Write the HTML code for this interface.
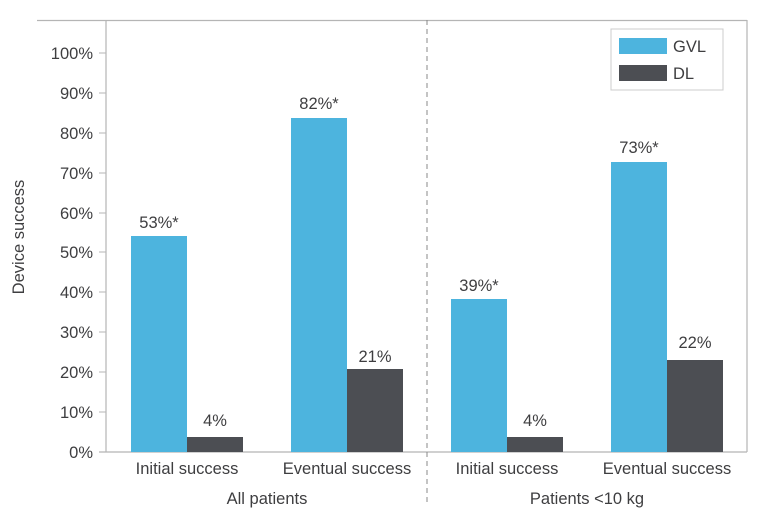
<!DOCTYPE html>
<html><head><meta charset="utf-8"><style>
body{margin:0;background:#fff;}
svg text{font-family:"Liberation Sans",sans-serif;fill:#3e3e40;font-size:16.5px;}
</style></head><body>
<svg width="768" height="515" viewBox="0 0 768 515">
<g stroke="#b5b5b5" stroke-width="1.2" fill="none">
<line x1="37" y1="20.5" x2="747" y2="20.5"/>
<line x1="106" y1="20" x2="106" y2="452"/>
<line x1="747" y1="20" x2="747" y2="452"/>
<line x1="99" y1="452" x2="747" y2="452"/>
</g>
<line x1="427" y1="20" x2="427" y2="505" stroke="#888" stroke-width="1" stroke-dasharray="5,4"/>
<g stroke="#b5b5b5">
<line x1="99" y1="53" x2="106" y2="53"/><line x1="99" y1="93" x2="106" y2="93"/>
<line x1="99" y1="133" x2="106" y2="133"/><line x1="99" y1="173" x2="106" y2="173"/>
<line x1="99" y1="213" x2="106" y2="213"/><line x1="99" y1="252" x2="106" y2="252"/>
<line x1="99" y1="292" x2="106" y2="292"/><line x1="99" y1="332" x2="106" y2="332"/>
<line x1="99" y1="372" x2="106" y2="372"/><line x1="99" y1="412" x2="106" y2="412"/>
</g>
<g text-anchor="end">
<text x="93" y="59">100%</text><text x="93" y="99">90%</text><text x="93" y="139">80%</text>
<text x="93" y="179">70%</text><text x="93" y="219">60%</text><text x="93" y="258">50%</text>
<text x="93" y="298">40%</text><text x="93" y="338">30%</text><text x="93" y="378">20%</text>
<text x="93" y="418">10%</text><text x="93" y="458">0%</text>
</g>
<text transform="translate(24,237) rotate(-90)" text-anchor="middle">Device success</text>
<g fill="#4db4de">
<rect x="131" y="236" width="56" height="216"/>
<rect x="291" y="118" width="56" height="334"/>
<rect x="451" y="299" width="56" height="153"/>
<rect x="611" y="162" width="56" height="290"/>
</g>
<g fill="#4c4e53">
<rect x="187" y="437" width="56" height="15"/>
<rect x="347" y="369" width="56" height="83"/>
<rect x="507" y="437" width="56" height="15"/>
<rect x="667" y="360" width="56" height="92"/>
</g>
<g text-anchor="middle">
<text x="159" y="228">53%*</text><text x="215" y="426">4%</text>
<text x="319" y="109">82%*</text><text x="375" y="362">21%</text>
<text x="479" y="291">39%*</text><text x="535" y="426">4%</text>
<text x="639" y="153">73%*</text><text x="695" y="348">22%</text>
<text x="187" y="474">Initial success</text><text x="347" y="474">Eventual success</text>
<text x="507" y="474">Initial success</text><text x="667" y="474">Eventual success</text>
<text x="267" y="504">All patients</text><text x="587" y="504">Patients &lt;10 kg</text>
</g>
<rect x="611" y="29" width="112" height="61" fill="#fff" stroke="#ccc"/>
<rect x="619" y="38" width="48" height="16" fill="#4db4de"/>
<rect x="619" y="65" width="48" height="16" fill="#4c4e53"/>
<text x="673" y="52">GVL</text><text x="673" y="79">DL</text>
</svg>
</body></html>
